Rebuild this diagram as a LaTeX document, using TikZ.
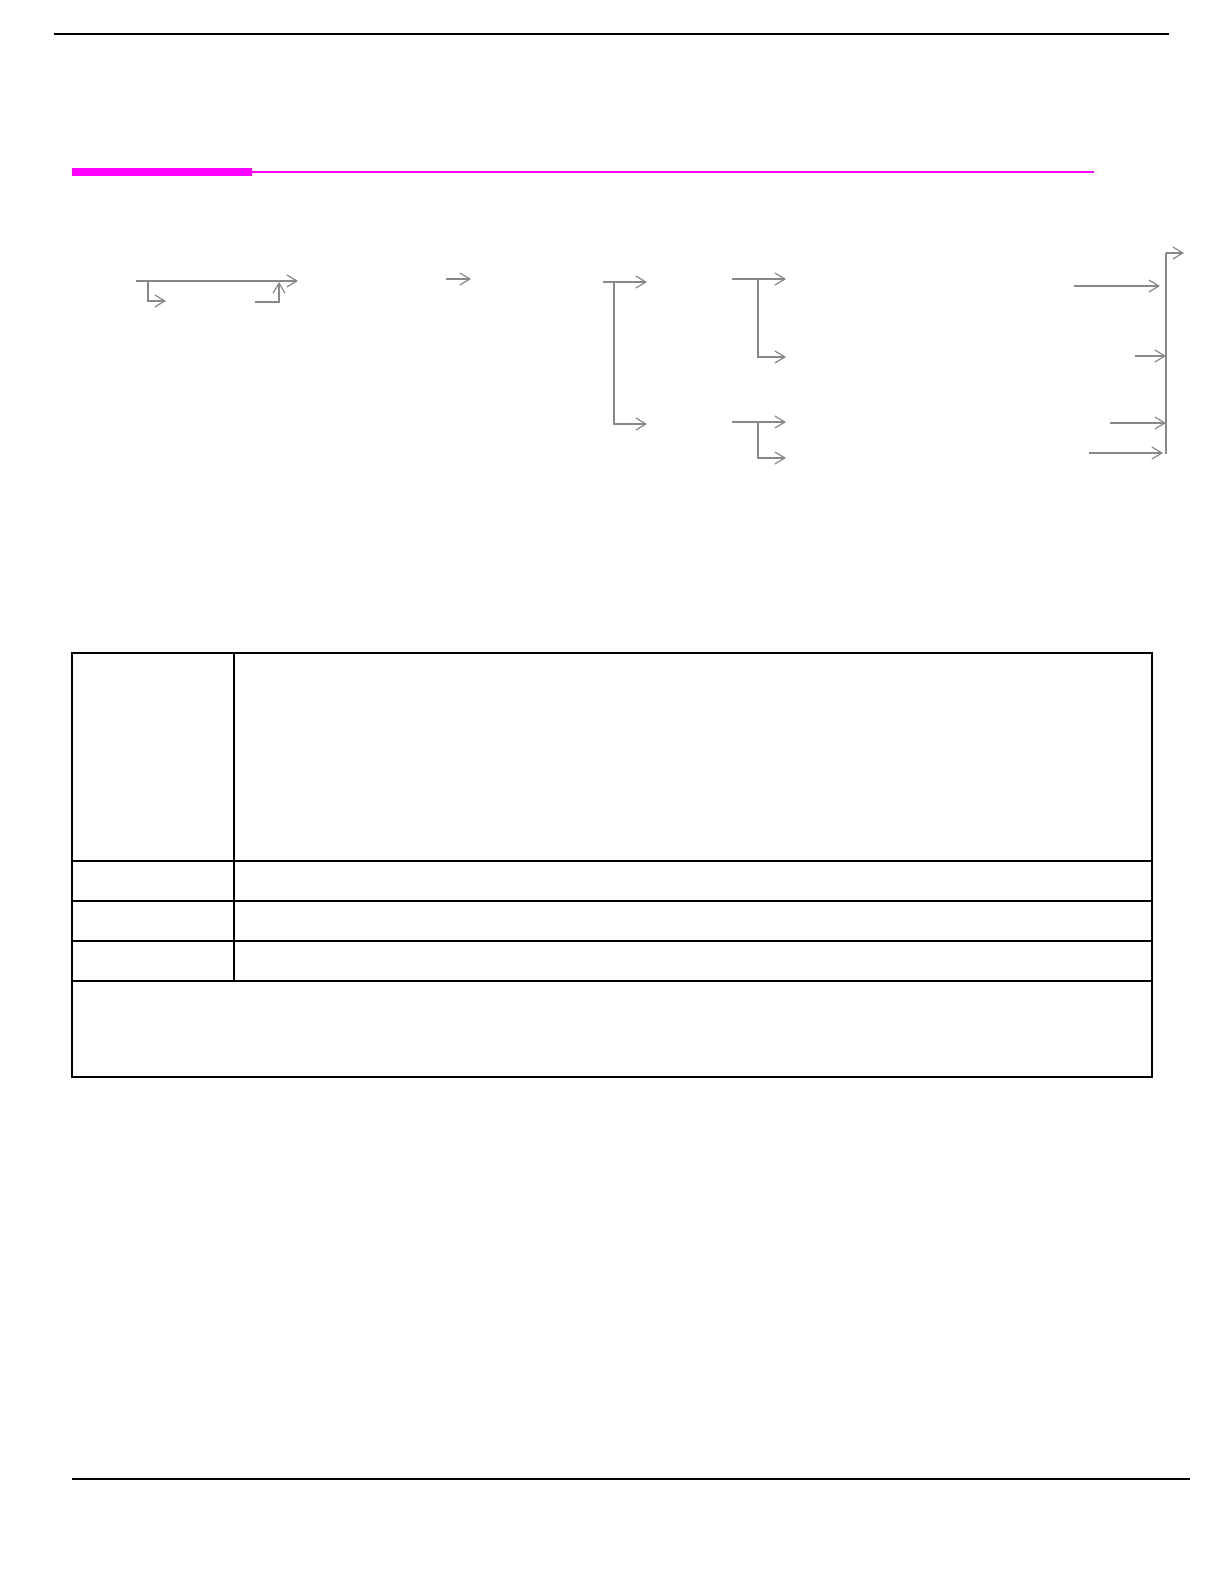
\documentclass[tikz,border=0pt]{standalone}
\usepackage{xcolor}
\usepackage{tikz}
\usetikzlibrary{arrows.meta, positioning, calc}
\definecolor{bandpink}{RGB}{255,0,255}
\definecolor{flowgray}{RGB}{136,136,136}
\tikzset{
  flow/.style={draw=flowgray, line width=0.6pt, -{Straight Barb[length=5pt,width=6pt]}},
  pagerule/.style={draw=black, line width=0.6pt},
  cell/.style={draw=black, line width=0.7pt},
}

\begin{document}
\begin{tikzpicture}[x=0.5pt, y=-0.5pt]
            \useasboundingbox (0,0) rectangle (1224,1582);
            % page rules and title band
            \draw[pagerule] (54,34) -- (1169,34);
            \fill[bandpink] (72,168) rectangle (252,176);
            \draw[bandpink, line width=1pt] (252,172) -- (1094,172);
            \draw[pagerule] (72,1479) -- (1190,1479);

            % first group
            \coordinate (inA) at (136,281); \coordinate (outA) at (298,281);
            \coordinate (tapA) at (148,281); \coordinate (outB) at (166,301);
            \coordinate (inB) at (255,302); \coordinate (joinB) at (279,282);
            \coordinate (inC) at (446,279); \coordinate (outC) at (471,279);
            \draw[flow] (inA) -- (outA);
            \draw[flow] (tapA) |- (outB);
            \draw[flow] (inB) -| (joinB);
            \draw[flow] (inC) -- (outC);

            % second group
            \coordinate (inD) at (603,282); \coordinate (tapD) at (614,282);
            \draw[flow] (inD) -- (647,282);
            \draw[flow] (tapD) |- (647,424);
            \foreach \y/\yy in {279/357, 422/458} {
                \coordinate (inE) at (732,\y); \coordinate (tapE) at (758,\y);
                \draw[flow] (inE) -- (786,\y);
                \draw[flow] (tapE) |- (786,\yy);
            }

            % third group
            \coordinate (busT) at (1166,253); \coordinate (busB) at (1166,454);
            \draw[flowgray, line width=0.6pt] (busT) -- (busB);
            \draw[flow] (busT) -- (1184,253);
            \draw[flow] (1074,286) -- (1160,286);
            \draw[flow] (1135,356) -- (1166,356);
            \draw[flow] (1110,423) -- (1166,423);
            \draw[flow] (1089,453) -- (1163,453);

            % table
            \draw[cell] (72,653) rectangle (1152,1077);
            \draw[cell] (234,653) -- (234,981);
            \foreach \y in {861,901,941,981} \draw[cell] (72,\y) -- (1152,\y);
        \end{tikzpicture}
\end{document}
